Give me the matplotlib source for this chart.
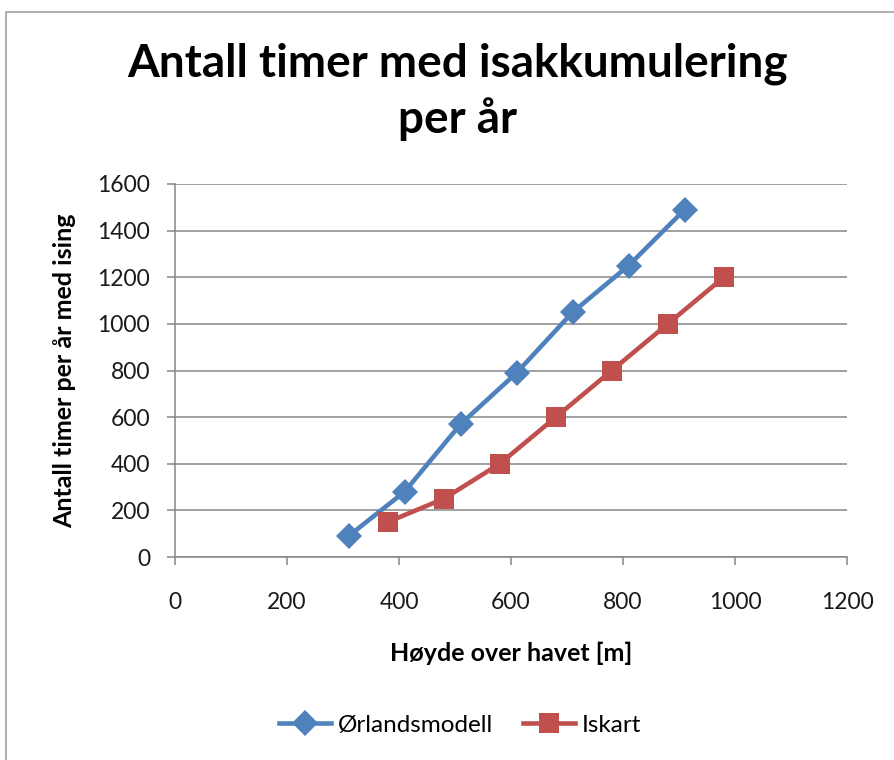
import matplotlib
matplotlib.use("Agg")
import matplotlib.pyplot as plt
from matplotlib.patches import Rectangle
from matplotlib.lines import Line2D

# Hours per year with ice accretion vs. height above sea level
orland_height = [310, 410, 510, 610, 710, 810, 910]
orland_hours = [90, 280, 570, 790, 1050, 1250, 1490]
iskart_height = [380, 480, 580, 680, 780, 880, 980]
iskart_hours = [150, 250, 400, 600, 800, 1000, 1200]

title = "Antall timer med isakkumulering\nper år"
xlabel = "Høyde over havet [m]"
ylabel = "Antall timer per år med ising"
series_names = ["Ørlandsmodell", "Iskart"]

blue = "#4F81BD"
red = "#C0504D"
grid_col = "#868686"
plt.rcParams["font.family"] = ["Lato", "DejaVu Sans"]

fig = plt.figure(figsize=(8.94, 7.6), dpi=100)
fig.patches.append(Rectangle((6 / 894, -0.1), 1.2, 1 - 12 / 760 + 0.1,
                             transform=fig.transFigure, fill=False,
                             edgecolor="#a0a0a0", linewidth=1.2))

ax = fig.add_axes([175 / 894, 1 - 557 / 760, 672 / 894, 373 / 760])
ax.plot(orland_height, orland_hours, color=blue, lw=3.3, marker="D",
        markersize=13, markeredgewidth=0, label=series_names[0],
        clip_on=False, zorder=3)
ax.plot(iskart_height, iskart_hours, color=red, lw=3.3, marker="s",
        markersize=14.5, markeredgewidth=0, label=series_names[1],
        clip_on=False, zorder=3)

ax.set_xlim(0, 1200)
ax.set_ylim(0, 1600)
ax.set_xticks(range(0, 1201, 200))
ax.set_yticks(range(0, 1601, 200))
ax.grid(axis="y", color=grid_col, lw=1.1)
ax.set_axisbelow(True)
for s in ["top", "right"]:
    ax.spines[s].set_visible(False)
for s in ["left", "bottom"]:
    ax.spines[s].set_color(grid_col)
    ax.spines[s].set_linewidth(1.1)
ax.tick_params(axis="both", direction="out", length=6, color=grid_col,
               width=1.1, labelsize=16.5, labelcolor="#1a1a1a")
ax.tick_params(axis="x", pad=19)
ax.tick_params(axis="y", pad=12)

ax.set_xlabel(xlabel, fontsize=18, fontweight="bold", va="center")
ax.xaxis.set_label_coords(0.5, (557 - 653) / 373)
ax.set_ylabel(ylabel, fontsize=18, fontweight="bold", va="center")
ax.yaxis.set_label_coords((65 - 175) / 672, 0.5)

fig.text(458 / 894, 1 - 92 / 760, title, ha="center", va="center",
         fontsize=33, fontweight="bold", linespacing=1.33)

handles = [Line2D([], [], color=blue, lw=3.3, marker="D", markersize=13,
                  markeredgewidth=0),
           Line2D([], [], color=red, lw=3.3, marker="s", markersize=14.5,
                  markeredgewidth=0)]
fig.legend(handles, series_names, loc="center", ncol=2,
           bbox_to_anchor=(460 / 894, 1 - 725 / 760), frameon=False,
           fontsize=17.5, handlelength=2.15, handletextpad=0.25,
           columnspacing=1.25)

fig.savefig("out.png", dpi=100, facecolor="white")
